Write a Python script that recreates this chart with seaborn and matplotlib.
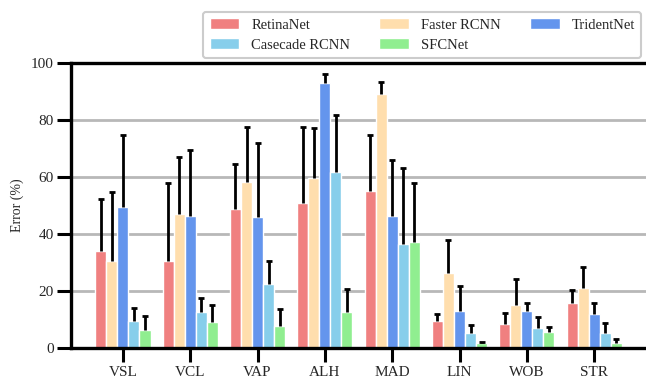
import numpy as np
import pandas as pd
import matplotlib
matplotlib.use("Agg")
import matplotlib.pyplot as plt
import seaborn as sns

metrics = ["VSL", "VCL", "VAP", "ALH", "MAD", "LIN", "WOB", "STR"]
models = ["RetinaNet", "Faster RCNN", "TridentNet", "Casecade RCNN", "SFCNet"]
colors = ["#F08080", "#FFDEAD", "#6495ED", "#87CEEB", "#90EE90"]

# mean error (%) per model
retina = [34.2, 30.4, 48.7, 50.8, 55.0, 9.6, 8.6, 16.0]
faster = [30.6, 46.9, 58.2, 59.6, 89.2, 26.5, 15.3, 21.2]
trident = [49.6, 46.2, 45.9, 93.1, 46.2, 13.1, 13.1, 12.1]
cascade = [9.5, 12.8, 22.6, 61.7, 36.7, 5.4, 7.2, 5.4]
sfcnet = [6.3, 9.3, 7.9, 12.8, 37.1, 1.9, 5.7, 1.9]

# upper end of error bar per model
retina_top = [52.4, 57.8, 64.5, 77.5, 74.7, 12.1, 12.2, 20.3]
faster_top = [54.7, 67.0, 77.5, 77.3, 93.4, 38.0, 24.2, 28.4]
trident_top = [74.6, 69.4, 72.0, 96.0, 66.1, 21.7, 15.7, 15.9]
cascade_top = [14.0, 17.5, 30.7, 81.6, 63.2, 8.2, 10.9, 9.0]
sfcnet_top = [11.3, 15.2, 13.7, 20.6, 58.0, 2.3, 7.5, 3.4]

means = [retina, faster, trident, cascade, sfcnet]
tops = [retina_top, faster_top, trident_top, cascade_top, sfcnet_top]

rows = []
for m, vals in zip(models, means):
    for k, v in zip(metrics, vals):
        rows.append({"metric": k, "model": m, "error": v})
df = pd.DataFrame(rows)

sns.set_theme(style="ticks")
plt.rcParams["font.family"] = ["Liberation Serif", "DejaVu Serif"]

fig = plt.figure(figsize=(6.46, 3.81), dpi=100)
ax = fig.add_axes([0.110, 0.086, 0.89, 0.749])

sns.barplot(data=df, x="metric", y="error", hue="model", order=metrics,
            hue_order=models, palette=colors, width=0.82, gap=0,
            errorbar=None, saturation=1, ax=ax)

# upper-only error bars on each bar
for cont, top in zip(ax.containers, tops):
    xs = [b.get_x() + b.get_width() / 2 for b in cont]
    hs = [b.get_height() for b in cont]
    up = np.array(top) - np.array(hs)
    _, caps, _ = ax.errorbar(xs, hs, yerr=[np.zeros_like(up), up], fmt="none",
                             ecolor="black", elinewidth=2, capsize=2.5,
                             capthick=2, zorder=3)
    caps[0].set_visible(False)  # no cap at the bar top

ax.set_ylim(0, 100)
ax.set_xlim(-0.77, 7.77)
ax.set_yticks([0, 20, 40, 60, 80, 100])
ax.set_xlabel("")
ax.set_ylabel("Error (%)", fontsize=10, labelpad=5)
ax.yaxis.grid(True, color="#b8b8b8", linewidth=2)
ax.set_axisbelow(True)
ax.tick_params(axis="both", length=10, width=2.2, labelsize=11,
               color="black", pad=2.5)

for s in ["left", "bottom", "top"]:
    ax.spines[s].set_linewidth(2.4)
    ax.spines[s].set_color("black")
ax.spines["right"].set_visible(False)

handles, labels = ax.get_legend_handles_labels()
ax.get_legend().remove()
order = [0, 3, 1, 4, 2]
leg = fig.legend([handles[i] for i in order], [labels[i] for i in order],
                 loc="upper right", bbox_to_anchor=(1.004, 0.988), ncol=3,
                 fontsize=10.5, handlelength=2.05, handleheight=0.75,
                 handletextpad=0.8, columnspacing=2.0, labelspacing=0.45,
                 frameon=True, fancybox=True, framealpha=1,
                 borderpad=0.45)
leg.get_frame().set_edgecolor("#cccccc")
leg.get_frame().set_linewidth(1.5)

fig.savefig("out.png", dpi=100)
